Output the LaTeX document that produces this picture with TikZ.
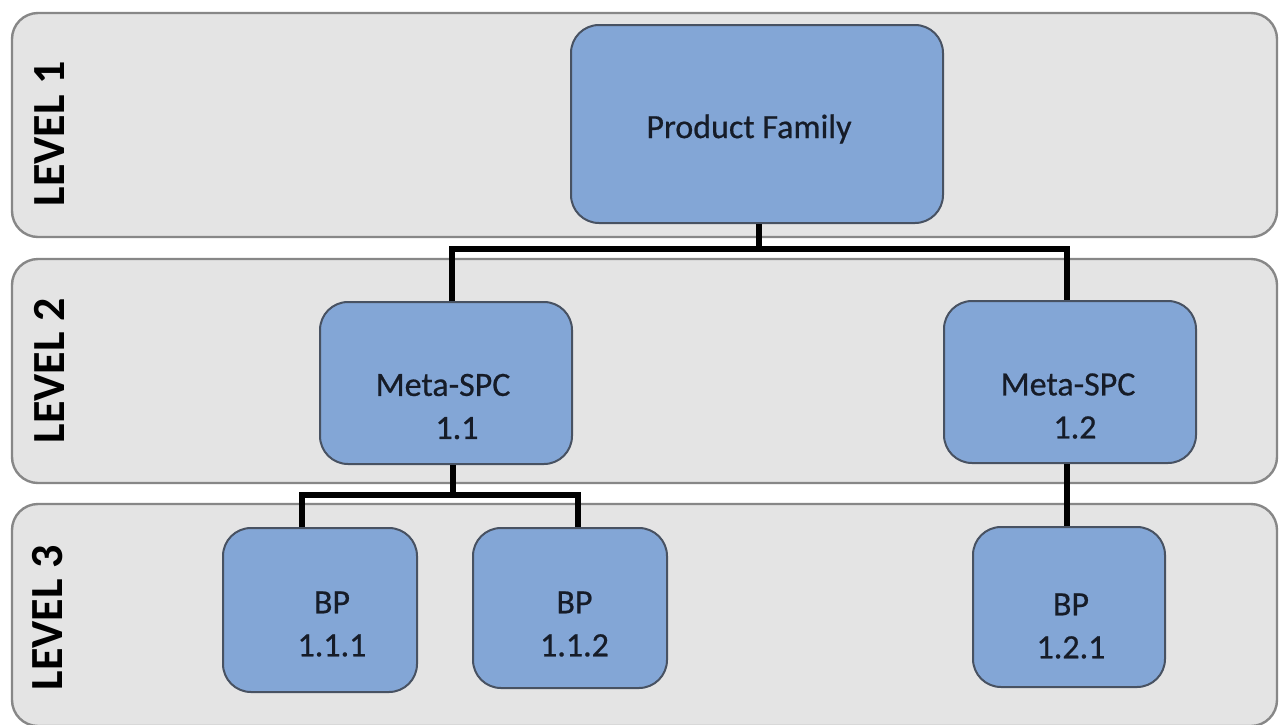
\documentclass[tikz,border=0pt]{standalone}
\usepackage{fontspec}
\setmainfont{Carlito}
\newfontfamily\nodefont[FakeBold=0.6]{Carlito}
\usetikzlibrary{calc}
\definecolor{bandfill}{RGB}{228,228,228}
\definecolor{bandline}{RGB}{135,135,135}
\definecolor{boxfill}{RGB}{131,166,214}
\definecolor{boxline}{RGB}{72,82,98}
\definecolor{txtcol}{RGB}{22,28,40}
\begin{document}
\begin{tikzpicture}[x=0.5pt,y=-0.5pt,
  band/.style={draw=bandline, fill=bandfill, line width=1.2pt, rounded corners=13pt},
  box/.style={draw=boxline, fill=boxfill, line width=1pt, rounded corners=14pt, inner sep=0pt},
  txt/.style={text=txtcol, font=\nodefont\fontsize{17}{21.5}\selectfont, align=center, inner sep=0pt},
  lvl/.style={text=black, font=\bfseries\fontsize{23}{27}\selectfont, rotate=90, inner sep=0pt},
  conn/.style={draw=black, line width=2.6pt}]
\useasboundingbox (0,0) rectangle (1280,724);
\fill[white] (0,0) rectangle (1280,724);
% bands
\draw[band] (12,13) rectangle (1277,237);
\draw[band] (12,259) rectangle (1277,483);
\draw[band] (12,504) rectangle (1277,726);
% level labels
\node[lvl] (l1) at (50,134) {LEVEL 1};
\node[lvl] (l2) at (49,371) {LEVEL 2};
\node[lvl] (l3) at (48,618) {LEVEL 3};
% boxes
\node[box, minimum width=186pt, minimum height=99pt] (pf) at (757,124) {};
\node[box, minimum width=126pt, minimum height=81pt] (m11) at (446,383) {};
\node[box, minimum width=126pt, minimum height=81pt] (m12) at (1070,382) {};
\node[box, minimum width=97pt, minimum height=82pt] (b111) at (320,610) {};
\node[box, minimum width=97pt, minimum height=80pt] (b112) at (570,608) {};
\node[box, minimum width=96pt, minimum height=80pt] (b121) at (1069,607) {};
% texts
\node[txt] (pft) at (749,129) {Product Family};
\node[txt] (m11t) at (443,406.5) {Meta-SPC\\\hspace*{14pt}1.1};
\node[txt] (m12t) at (1068,406) {Meta-SPC\\\hspace*{7pt}1.2};
\node[txt] (b111t) at (332,624) {BP\\1.1.1};
\node[txt] (b112t) at (574.5,624) {BP\\1.1.2};
\node[txt] (b121t) at (1071,626) {BP\\1.2.1};
% connectors
\coordinate (j1) at ($(pf.south)+(2,25)$);
\coordinate (j2) at ($(m11.south)+(7,30)$);
\draw[conn] ($(pf.south)+(2,0)$) -- (j1);
\draw[conn] ($(m11.north)+(6,0)$) |- (j1) -| ($(m12.north)+(-3,0)$);
\draw[conn] ($(m11.south)+(7,0)$) -- (j2);
\draw[conn] ($(b111.north)+(-18,0)$) |- (j2) -| ($(b112.north)+(8,0)$);
\draw[conn] ($(m12.south)+(-3,0)$) -- ($(b121.north)+(-2,0)$);
\end{tikzpicture}
\end{document}
